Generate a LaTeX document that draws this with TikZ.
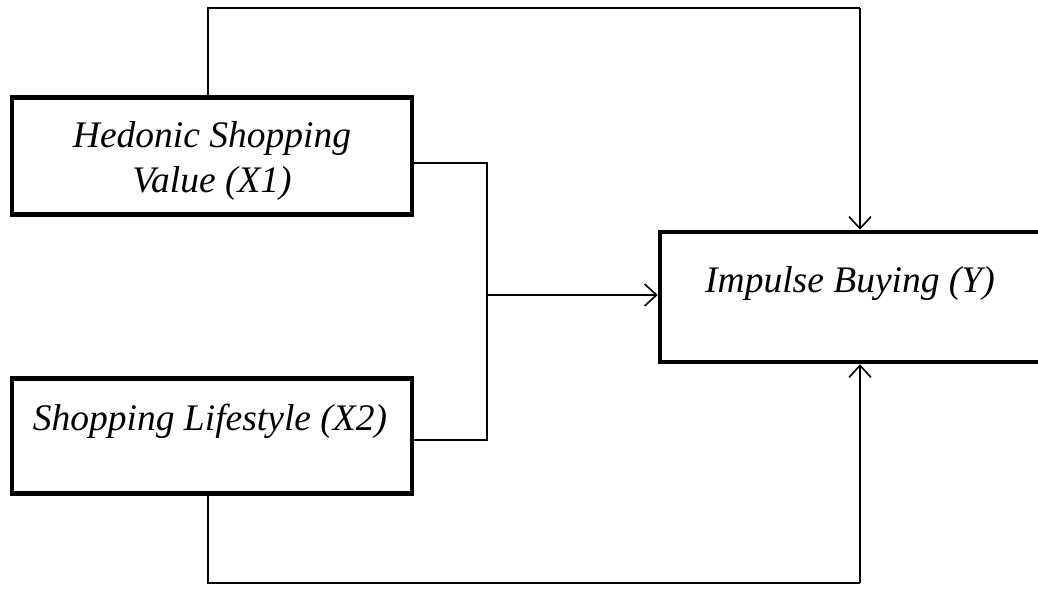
\documentclass[tikz,border=0pt]{standalone}
\usepackage{fontspec}
\setmainfont{Liberation Serif}
\usetikzlibrary{arrows.meta}
\begin{document}
\begin{tikzpicture}[x=1pt,y=-1pt,
  varbox/.style={draw,line width=4.5pt,minimum width=400pt,inner sep=0pt},
  label/.style={align=center,inner sep=0pt,font=\fontsize{37.5}{45}\selectfont\itshape},
  link/.style={line width=1.8pt},
  arr/.style={link,-{Straight Barb[length=12pt,width=22pt,line width=1.6pt]}}]
\useasboundingbox (0,0) rectangle (1038,594);
\node[varbox,minimum height=117pt] (hed) at (212,156) {};
\node[label] (hedt) at (212,161) {Hedonic Shopping\\Value (X1)};
\node[varbox,minimum height=115pt] (sl) at (212,436) {};
\node[label] (slt) at (210,421) {Shopping Lifestyle (X2)};
\begin{scope}
\clip (0,0) rectangle (1038,594);
\node[varbox,minimum width=420pt,minimum height=130pt] (imp) at (870,297) {};
\end{scope}
\node[label] (impt) at (850,284) {Impulse Buying (Y)};
\coordinate (topL) at (208,8);
\coordinate (topR) at (860,8);
\coordinate (botL) at (208,583);
\coordinate (botR) at (860,583);
\coordinate (j1) at (487,163);
\coordinate (j2) at (487,440);
\coordinate (jm) at (487,295);
\draw[link] (hed.north -| topL) -- (topL) -- (topR);
\draw[arr] (topR) -- (topR |- imp.north);
\draw[link] (sl.south -| botL) -- (botL) -- (botR);
\draw[arr] (botR) -- (botR |- imp.south);
\draw[link] (hed.east |- j1) -- (j1) -- (j2) -- (sl.east |- j2);
\draw[arr] (jm) -- (jm -| imp.west);
\end{tikzpicture}
\end{document}
